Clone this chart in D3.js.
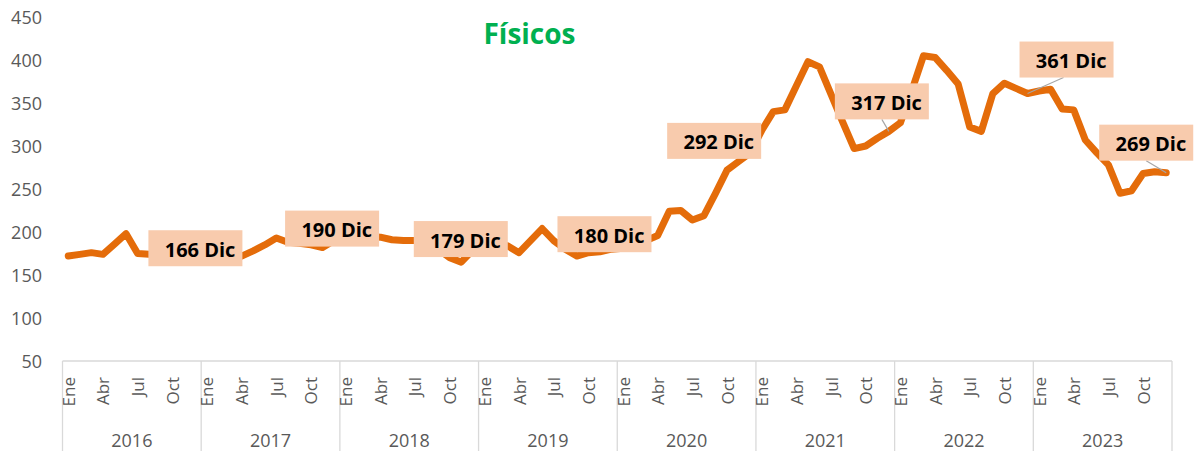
<!DOCTYPE html>
<html>
<head>
<meta charset="utf-8">
<script src="https://cdn.jsdelivr.net/npm/d3@7"></script>
<style>
    body { margin: 0; background: #fff; }
    svg { display: block; font-family: 'Open Sans', sans-serif; }
</style>
</head>
<body>
<svg id="fisicos-vis" width="1196" height="451"></svg>
<script>
// datos mensuales 2016-2023
const years = ['2016', '2017', '2018', '2019', '2020', '2021', '2022', '2023'];
const months = ['Ene', 'Feb', 'Mar', 'Abr', 'May', 'Jun', 'Jul', 'Ago', 'Sep', 'Oct', 'Nov', 'Dic'];
const yTicks = [50, 100, 150, 200, 250, 300, 350, 400, 450];

const valores = [
    172, 174, 176, 174, 186, 198, 175, 174, 172, 170, 168, 166,
    168, 170, 171, 172, 178, 185, 193, 188, 187, 185, 182, 190,
    195, 196, 195, 194, 191, 190, 190, 190, 180, 170, 165, 179,
    182, 186, 184, 176, 190, 204, 190, 180, 172, 176, 177, 180,
    181, 182, 190, 196, 224, 225, 214, 219, 245, 272, 282, 292,
    318, 340, 342, 370, 398, 392, 360, 328, 297, 300, 309, 317,
    327, 365, 405, 403, 388, 372, 322, 317, 361, 373, 367, 361,
    364, 366, 343, 342, 307, 292, 278, 245, 248, 268, 270, 269
];

// offsets of each "Dic" label box centre from its point
const labelOffsets = [[0, -13], [-2, -12], [-12, -11], [-7, -15], [-36, -12], [-7, -30], [39, -34], [-20, -30]];
const leaderLines = [false, false, false, false, false, true, true, true];

const root = d3.select('#fisicos-vis');

const MARGIN_LEFT = 62.5;
const PLOT_RIGHT = 1172;
const Y_TOP = 17;
const Y_BOTTOM = 361;
const HEIGHT = 451;

const LINE_COLOR = '#E46C0A';
const AXIS_COLOR = '#D9D9D9';
const TEXT_COLOR = '#595959';

const points = valores.map((v, i) => ({ idx: i, year: years[Math.floor(i / 12)], month: months[i % 12], value: v }));

const x = d3.scaleBand()
    .domain(points.map(d => d.idx))
    .range([MARGIN_LEFT, PLOT_RIGHT])
    .padding(0);

const y = d3.scaleLinear()
    .domain([50, 450])
    .range([Y_BOTTOM, Y_TOP]);

const cx = i => x(i) + x.bandwidth() / 2;

drawTitle();
drawAxis();
drawLine();
drawLabels();

function drawTitle() {
    root.append('text')
        .text('Físicos')
        .attr('x', 529.5)
        .attr('y', 44)
        .attr('font-size', 28)
        .attr('font-weight', 700)
        .attr('fill', '#00B050')
        .attr('text-anchor', 'middle');
}

function drawAxis() {
    // y tick labels, no axis line
    root.selectAll('.y-tick')
        .data(yTicks)
        .enter()
        .append('text')
        .attr('class', 'y-tick')
        .text(d => d)
        .attr('x', 42)
        .attr('y', d => y(d))
        .attr('font-size', 18)
        .attr('fill', TEXT_COLOR)
        .attr('text-anchor', 'end')
        .attr('dominant-baseline', 'central');

    root.append('line')
        .attr('x1', MARGIN_LEFT)
        .attr('x2', PLOT_RIGHT)
        .attr('y1', Y_BOTTOM)
        .attr('y2', Y_BOTTOM)
        .attr('stroke', AXIS_COLOR)
        .attr('stroke-width', 1.3);

    // year separators
    const bounds = d3.range(0, valores.length + 1, 12);
    root.selectAll('.sep')
        .data(bounds)
        .enter()
        .append('line')
        .attr('class', 'sep')
        .attr('x1', d => d < valores.length ? x(d) : PLOT_RIGHT)
        .attr('x2', d => d < valores.length ? x(d) : PLOT_RIGHT)
        .attr('y1', Y_BOTTOM)
        .attr('y2', HEIGHT)
        .attr('stroke', AXIS_COLOR)
        .attr('stroke-width', 1.3);

    // month labels every 3 months
    root.selectAll('.month')
        .data(points.filter(d => d.idx % 3 === 0))
        .enter()
        .append('text')
        .attr('class', 'month')
        .text(d => d.month)
        .attr('transform', d => `translate(${cx(d.idx)},377) rotate(-90)`)
        .attr('font-size', 17)
        .attr('fill', TEXT_COLOR)
        .attr('text-anchor', 'end')
        .attr('dominant-baseline', 'central');

    root.selectAll('.year')
        .data(years)
        .enter()
        .append('text')
        .attr('class', 'year')
        .text(d => d)
        .attr('x', (d, k) => (x(k * 12) + x(k * 12 + 11) + x.bandwidth()) / 2)
        .attr('y', 440)
        .attr('font-size', 18)
        .attr('fill', TEXT_COLOR)
        .attr('text-anchor', 'middle')
        .attr('dominant-baseline', 'central');
}

function drawLine() {
    const line = d3.line()
        .x(d => cx(d.idx))
        .y(d => y(d.value));

    root.append('path')
        .datum(points)
        .attr('d', line)
        .attr('fill', 'none')
        .attr('stroke', LINE_COLOR)
        .attr('stroke-width', 7)
        .attr('stroke-linejoin', 'round')
        .attr('stroke-linecap', 'round');
}

function drawLabels() {
    const dic = points.filter(d => d.idx % 12 === 11);
    const BOX_W = 94;
    const BOX_H = 36;

    dic.forEach((d, k) => {
        const px = cx(d.idx);
        const py = y(d.value);
        const bx = px + labelOffsets[k][0];
        const by = py + labelOffsets[k][1];

        if (leaderLines[k]) {
            root.append('line')
                .attr('x1', px)
                .attr('y1', py)
                .attr('x2', bx - (k === 6 ? 3 : 0))
                .attr('y2', by + BOX_H / 2)
                .attr('stroke', '#A6A6A6')
                .attr('stroke-width', 1.2);
        }

        root.append('rect')
            .attr('x', bx - BOX_W / 2)
            .attr('y', by - BOX_H / 2)
            .attr('width', BOX_W)
            .attr('height', BOX_H)
            .attr('fill', '#F8CBAD');

        root.append('text')
            .text(d.value + ' Dic')
            .attr('x', bx + BOX_W / 2 - 7)
            .attr('y', by + 1)
            .attr('font-size', 20)
            .attr('font-weight', 700)
            .attr('fill', '#000')
            .attr('text-anchor', 'end')
            .attr('dominant-baseline', 'central');
    });
}
</script>
</body>
</html>
